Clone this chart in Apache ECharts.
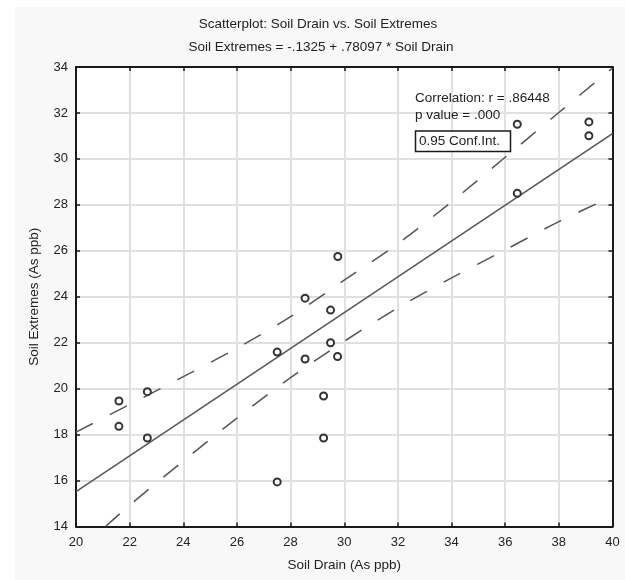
<!DOCTYPE html>
<html>
<head>
<meta charset="utf-8">
<script src="https://cdn.jsdelivr.net/npm/echarts@6/dist/echarts.min.js"></script>
<style>
html,body{margin:0;padding:0;background:#fff;}
#chart{width:625px;height:580px;}
</style>
</head>
<body>
<div id="chart"></div>
<script>
// Scatter data (Soil Drain, Soil Extremes)
var drainX = [21.6, 21.6, 22.66, 22.66, 27.5, 27.5, 28.54, 28.54, 29.49, 29.49, 29.75, 29.23, 29.23, 29.76, 36.45, 36.45, 39.12, 39.12];
var extremesY = [19.46, 18.36, 19.87, 17.85, 15.94, 21.59, 23.94, 21.29, 23.42, 22.0, 21.4, 19.68, 17.85, 25.75, 31.51, 28.5, 31.61, 31.01];

// Regression line read at its ends
var regX = [20, 40];
var regY = [15.52, 31.1];

// 0.95 confidence band
var upperX = [20, 22, 24, 26, 28, 30, 32, 34, 36, 38, 40];
var upperY = [18.11, 19.31, 20.52, 21.76, 23.13, 24.72, 26.31, 28.13, 30.07, 32.02, 33.95];
var lowerX = [21.1, 22, 24, 26, 28, 30, 32, 34, 36, 38, 40];
var lowerY = [14.0, 14.93, 16.85, 18.72, 20.48, 22.06, 23.52, 24.82, 26.04, 27.27, 28.37];

var xTicks = {min: 20, max: 40, interval: 2};
var yTicks = {min: 14, max: 34, interval: 2};

var titleText = 'Scatterplot: Soil Drain vs. Soil Extremes';
var subtitleText = 'Soil Extremes = -.1325 + .78097 * Soil Drain';
var xName = 'Soil Drain (As ppb)';
var yName = 'Soil Extremes (As ppb)';
var corrText = 'Correlation: r = .86448';
var pText = 'p value = .000';
var ciText = '0.95 Conf.Int.';

function zip(a, b) { return a.map(function (v, i) { return [v, b[i]]; }); }

var FONT = '"Liberation Sans", Arial, sans-serif';
var chart = echarts.init(document.getElementById('chart'), null, {renderer: 'canvas'});

var hiddenAxisCommon = {
  axisLabel: {show: false},
  splitLine: {show: false},
  axisLine: {show: true, lineStyle: {color: '#1a1a1a', width: 2}},
  axisTick: {show: true, inside: true, length: 4, lineStyle: {color: '#1a1a1a', width: 1.5}}
};

chart.setOption({
  animation: false,
  backgroundColor: '#f8f8f8',
  textStyle: {fontFamily: FONT},
  grid: {left: 76, right: 12.5, top: 67, bottom: 53.5, show: true, backgroundColor: '#ffffff', borderWidth: 0},
  xAxis: [
    {
      type: 'value', min: xTicks.min, max: xTicks.max, interval: xTicks.interval,
      position: 'bottom',
      name: xName, nameLocation: 'middle', nameGap: 32,
      nameTextStyle: {color: '#222', fontSize: 13.5, fontFamily: FONT},
      axisLine: {show: true, lineStyle: {color: '#1a1a1a', width: 2}},
      axisTick: {show: true, inside: true, length: 4, lineStyle: {color: '#1a1a1a', width: 1.5}},
      axisLabel: {color: '#222', fontSize: 13, margin: 9, fontFamily: FONT},
      splitLine: {show: true, lineStyle: {color: '#e0e0e0', width: 2}}
    },
    Object.assign({type: 'value', min: xTicks.min, max: xTicks.max, interval: xTicks.interval, position: 'top'}, hiddenAxisCommon)
  ],
  yAxis: [
    {
      type: 'value', min: yTicks.min, max: yTicks.max, interval: yTicks.interval,
      position: 'left',
      name: yName, nameLocation: 'middle', nameGap: 35, nameRotate: 90,
      nameTextStyle: {color: '#222', fontSize: 13.5, fontFamily: FONT},
      axisLine: {show: true, lineStyle: {color: '#1a1a1a', width: 2}},
      axisTick: {show: true, inside: true, length: 4, lineStyle: {color: '#1a1a1a', width: 1.5}},
      axisLabel: {color: '#222', fontSize: 13, margin: 8, fontFamily: FONT},
      splitLine: {show: true, lineStyle: {color: '#e0e0e0', width: 2}}
    },
    Object.assign({type: 'value', min: yTicks.min, max: yTicks.max, interval: yTicks.interval, position: 'right'}, hiddenAxisCommon)
  ],
  series: [
    {
      type: 'line', data: zip(upperX, upperY), symbol: 'none', smooth: 0.3,
      lineStyle: {color: '#555', width: 1.5, type: [19, 19]}, z: 3
    },
    {
      type: 'line', data: zip(lowerX, lowerY), symbol: 'none', smooth: 0.3,
      lineStyle: {color: '#555', width: 1.5, type: [19, 19]}, z: 3
    },
    {
      type: 'line', data: zip(regX, regY), symbol: 'none',
      lineStyle: {color: '#555', width: 1.5}, z: 3
    },
    {
      type: 'scatter', data: zip(drainX, extremesY), symbol: 'circle', symbolSize: 7,
      itemStyle: {color: '#ffffff', borderColor: '#333', borderWidth: 2, opacity: 1}, z: 5
    }
  ],
  graphic: [
    {type: 'rect', shape: {x: 0, y: 0, width: 625, height: 7}, style: {fill: '#ffffff'}, silent: true},
    {type: 'rect', shape: {x: 0, y: 0, width: 15, height: 580}, style: {fill: '#ffffff'}, silent: true},
    {type: 'text', x: 318, y: 24, style: {text: titleText, fill: '#222', font: '13.5px ' + FONT, textAlign: 'center', textVerticalAlign: 'middle'}},
    {type: 'text', x: 321, y: 47, style: {text: subtitleText, fill: '#222', font: '13.5px ' + FONT, textAlign: 'center', textVerticalAlign: 'middle'}},
    {type: 'text', x: 415, y: 98, z: 10, style: {text: corrText, fill: '#222', font: '13.5px ' + FONT, textVerticalAlign: 'middle'}},
    {type: 'text', x: 415, y: 115, z: 10, style: {text: pText, fill: '#222', font: '13.5px ' + FONT, textVerticalAlign: 'middle'}},
    {type: 'rect', z: 10, shape: {x: 415.5, y: 131, width: 95, height: 20.5}, style: {fill: '#ffffff', stroke: '#1a1a1a', lineWidth: 1.5}},
    {type: 'text', x: 419, y: 141.5, z: 11, style: {text: ciText, fill: '#222', font: '13.5px ' + FONT, textVerticalAlign: 'middle'}}
  ]
});
</script>
</body>
</html>
